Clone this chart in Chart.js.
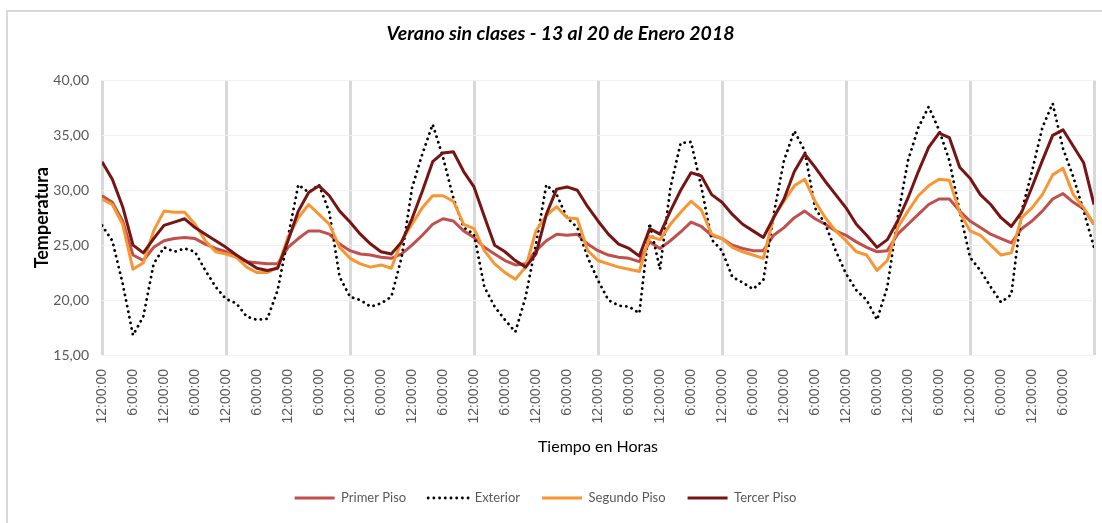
<!DOCTYPE html>
<html lang="es">
<head>
<meta charset="utf-8">
<title>Verano sin clases - 13 al 20 de Enero 2018</title>
<script src="https://cdn.jsdelivr.net/npm/chart.js@4.4.1/dist/chart.umd.min.js"></script>
<style>
  html, body { margin: 0; padding: 0; background: #fff; }
  #wrap { position: relative; width: 1102px; height: 523px; }
  #marco { position: absolute; left: 6px; top: 10px; right: 0; bottom: 0;
           border-top: 2px solid #d9d9d9; border-left: 2px solid #d9d9d9; pointer-events: none; }
  canvas { position: absolute; left: 0; top: 0; }
</style>
</head>
<body>
<div id="wrap">
  <canvas id="grafico" width="1102" height="523"></canvas>
  <div id="marco"></div>
</div>
<script>
// Horas desde el 13 de enero 0:00 (una lectura cada 2 horas)
const horas = [0, 2, 4, 6, 8, 10, 12, 14, 16, 18, 20, 22, 24, 26, 28, 30, 32, 34, 36, 38, 40, 42, 44, 46, 48,
  50, 52, 54, 56, 58, 60, 62, 64, 66, 68, 70, 72, 74, 76, 78, 80, 82, 84, 86, 88, 90, 92, 94, 96,
  98, 100, 102, 104, 106, 108, 110, 112, 114, 116, 118, 120, 122, 124, 126, 128, 130, 132, 134, 136, 138, 140, 142, 144,
  146, 148, 150, 152, 154, 156, 158, 160, 162, 164, 166, 168, 170, 172, 174, 176, 178, 180, 182, 184, 186, 188, 190, 192];

const primerPiso = [29.5, 28.9, 27.2, 24.1, 23.6, 24.8, 25.4, 25.6, 25.7, 25.6, 25.1, 24.7, 24.4,
  23.9, 23.5, 23.4, 23.3, 23.3, 24.8, 25.6, 26.3, 26.3, 26.0, 25.1, 24.5,
  24.2, 24.1, 23.9, 23.8, 24.2, 25.0, 25.9, 26.9, 27.4, 27.2, 26.3, 25.7,
  24.8, 24.2, 23.6, 23.2, 23.3, 24.5, 25.4, 26.0, 25.9, 26.0, 25.1, 24.5,
  24.1, 23.9, 23.8, 23.5, 25.3, 24.7, 25.4, 26.2, 27.1, 26.7, 25.9, 25.6,
  25.0, 24.7, 24.5, 24.5, 25.9, 26.6, 27.5, 28.1, 27.4, 26.9, 26.3, 25.9,
  25.3, 24.8, 24.4, 24.5, 26.0, 26.9, 27.8, 28.7, 29.2, 29.2, 28.1, 27.2,
  26.6, 26.0, 25.6, 25.2, 26.5, 27.2, 28.1, 29.2, 29.7, 28.9, 28.3, 26.9];

const exterior = [26.8, 25.4, 21.5, 16.8, 18.5, 23.3, 24.8, 24.4, 24.7, 24.4, 22.7, 21.2, 20.1,
  19.7, 18.5, 18.2, 18.3, 20.9, 25.7, 30.5, 29.8, 30.5, 28.0, 22.1, 20.3,
  20.0, 19.4, 19.7, 20.3, 23.9, 30.2, 33.3, 36.0, 33.0, 29.3, 26.6, 26.0,
  21.2, 19.4, 18.2, 17.1, 20.3, 25.1, 30.5, 29.6, 27.5, 26.6, 23.9, 21.8,
  20.0, 19.5, 19.4, 18.8, 27.0, 22.8, 30.2, 34.3, 34.4, 30.3, 25.5, 24.5,
  22.1, 21.6, 21.0, 21.8, 27.8, 32.7, 35.4, 33.6, 28.4, 26.9, 24.5, 22.4,
  20.9, 20.0, 18.2, 21.2, 27.5, 32.7, 35.7, 37.6, 35.5, 32.7, 28.1, 23.9,
  22.7, 21.2, 19.8, 20.5, 28.1, 31.7, 35.7, 37.9, 33.8, 31.2, 28.1, 24.8];

const segundoPiso = [29.2, 28.7, 26.9, 22.8, 23.4, 26.3, 28.1, 28.0, 28.0, 26.9, 25.4, 24.4, 24.2,
  23.9, 23.0, 22.5, 22.5, 23.0, 25.7, 27.5, 28.7, 27.8, 26.9, 24.8, 23.8,
  23.3, 23.0, 23.2, 22.9, 25.4, 26.9, 28.4, 29.5, 29.5, 29.0, 26.9, 26.5,
  24.5, 23.3, 22.5, 21.9, 23.0, 26.3, 27.7, 28.5, 27.5, 27.4, 24.5, 23.6,
  23.3, 23.0, 22.8, 22.6, 25.8, 25.5, 26.9, 28.0, 29.0, 28.2, 26.0, 25.6,
  24.8, 24.4, 24.1, 23.8, 27.6, 29.0, 30.4, 31.0, 29.0, 27.5, 26.3, 25.4,
  24.4, 24.1, 22.7, 23.6, 26.6, 28.1, 29.5, 30.4, 31.0, 30.9, 28.0, 26.3,
  25.9, 25.0, 24.1, 24.3, 27.5, 28.4, 29.6, 31.4, 32.0, 29.6, 28.4, 26.9];

const tercerPiso = [32.6, 31.0, 28.5, 25.0, 24.3, 25.6, 26.8, 27.1, 27.4, 26.6, 26.0, 25.4, 24.8,
  24.1, 23.5, 22.9, 22.7, 22.9, 25.4, 28.1, 29.8, 30.4, 29.5, 28.1, 27.1,
  26.0, 25.1, 24.4, 24.2, 25.3, 27.4, 29.9, 32.6, 33.4, 33.5, 31.7, 30.3,
  27.6, 25.0, 24.4, 23.6, 23.0, 24.2, 27.8, 30.1, 30.3, 30.0, 28.5, 27.2,
  26.0, 25.1, 24.7, 24.0, 26.5, 26.0, 28.1, 30.0, 31.6, 31.3, 29.6, 28.9,
  27.8, 26.9, 26.3, 25.7, 27.5, 29.2, 31.7, 33.3, 32.1, 30.8, 29.6, 28.4,
  26.9, 25.9, 24.8, 25.5, 27.2, 29.3, 31.7, 33.9, 35.2, 34.8, 32.1, 31.1,
  29.6, 28.7, 27.5, 26.7, 28.0, 30.3, 32.7, 35.0, 35.5, 34.0, 32.5, 28.7];

// Etiquetas del eje X (cada 6 horas)
const etiquetasHora = ['12:00:00', '6:00:00', '12:00:00', '6:00:00', '12:00:00', '6:00:00', '12:00:00', '6:00:00',
  '12:00:00', '6:00:00', '12:00:00', '6:00:00', '12:00:00', '6:00:00', '12:00:00', '6:00:00',
  '12:00:00', '6:00:00', '12:00:00', '6:00:00', '12:00:00', '6:00:00', '12:00:00', '6:00:00',
  '12:00:00', '6:00:00', '12:00:00', '6:00:00', '12:00:00', '6:00:00', '12:00:00', '6:00:00'];
const etiquetasTemp = ['15,00', '20,00', '25,00', '30,00', '35,00', '40,00'];

const fuente = "Lato, 'Open Sans', sans-serif";
const gris = '#595959';

const ctx = document.getElementById('grafico').getContext('2d');

// Leyenda con el mismo trazo que cada serie (punteado para Exterior)
function etiquetasLeyenda(chart) {
    const items = Chart.defaults.plugins.legend.labels.generateLabels(chart);
    items.forEach(item => {
        const ds = chart.data.datasets[item.datasetIndex];
        item.pointStyle = 'line';
        item.strokeStyle = ds.borderColor;
        item.lineWidth = ds.borderWidth;
        item.lineDash = ds.borderDash || [];
        item.lineCap = ds.borderCapStyle || 'butt';
    });
    return items;
}

// La leyenda del original queda un poco a la izquierda del centro
const moverLeyenda = {
    id: 'moverLeyenda',
    afterLayout(chart) {
        if (chart.legend) {
            chart.legend.left -= 15;
            chart.legend.right -= 15;
        }
    }
};

new Chart(ctx, {
    type: 'line',
    data: {
        labels: horas,
        datasets: [
            { label: 'Primer Piso', data: primerPiso, borderColor: '#c0504d', borderWidth: 3, order: 4 },
            { label: 'Exterior', data: exterior, borderColor: '#000000', borderWidth: 2.8,
              borderDash: [0.1, 5.6], borderCapStyle: 'round', order: 3 },
            { label: 'Segundo Piso', data: segundoPiso, borderColor: '#f79633', borderWidth: 3, order: 2 },
            { label: 'Tercer Piso', data: tercerPiso, borderColor: '#771414', borderWidth: 3, order: 1 }
        ]
    },
    options: {
        responsive: false,
        animation: false,
        layout: { padding: { left: 27, right: 8, top: 0, bottom: 8.5 } },
        elements: {
            point: { radius: 0, hoverRadius: 0 },
            line: { tension: 0, borderJoinStyle: 'round' }
        },
        scales: {
            x: {
                type: 'linear',
                min: 0,
                max: 192,
                border: { display: false },
                grid: {
                    drawTicks: false,
                    lineWidth: 3,
                    color: (c) => (c.tick && c.tick.value % 24 === 0) ? '#d9d9d9' : 'rgba(0,0,0,0)'
                },
                ticks: {
                    stepSize: 6,
                    autoSkip: false,
                    maxRotation: 90,
                    minRotation: 90,
                    padding: 14,
                    color: gris,
                    font: { family: "'Liberation Sans', Arial, sans-serif", size: 14 },
                    callback: (v, i) => etiquetasHora[i] || ''
                },
                title: {
                    display: true,
                    text: 'Tiempo en Horas',
                    color: '#000',
                    padding: { top: 4, bottom: 13 },
                    font: { family: fuente, size: 16 }
                },
                afterFit: (s) => { s.height = 114.5; s.paddingLeft = 0; s.paddingRight = 0; }
            },
            y: {
                min: 15,
                max: 40,
                border: { display: false },
                grid: { drawTicks: false, color: '#f0f0f0', lineWidth: 1 },
                ticks: {
                    stepSize: 5,
                    padding: 13,
                    color: gris,
                    font: { family: fuente, size: 14 },
                    callback: (v, i) => etiquetasTemp[i]
                },
                title: {
                    display: true,
                    text: 'Temperatura',
                    color: '#000',
                    padding: { top: 4, bottom: 4 },
                    font: { family: fuente, size: 18, weight: 'bold' }
                },
                afterFit: (s) => { s.width = 75; }
            }
        },
        plugins: {
            title: {
                display: true,
                text: 'Verano sin clases - 13 al 20 de Enero 2018',
                color: '#000',
                padding: { top: 22, bottom: 35 },
                font: { family: fuente, size: 19.5, weight: 'bold', style: 'italic' }
            },
            legend: {
                position: 'bottom',
                labels: {
                    usePointStyle: true,
                    pointStyle: 'line',
                    pointStyleWidth: 40,
                    padding: 22,
                    color: gris,
                    font: { family: fuente, size: 13 },
                    generateLabels: etiquetasLeyenda,
                    sort: (a, b) => a.datasetIndex - b.datasetIndex
                }
            },
            tooltip: { enabled: false }
        }
    },
    plugins: [moverLeyenda]
});
</script>
</body>
</html>
